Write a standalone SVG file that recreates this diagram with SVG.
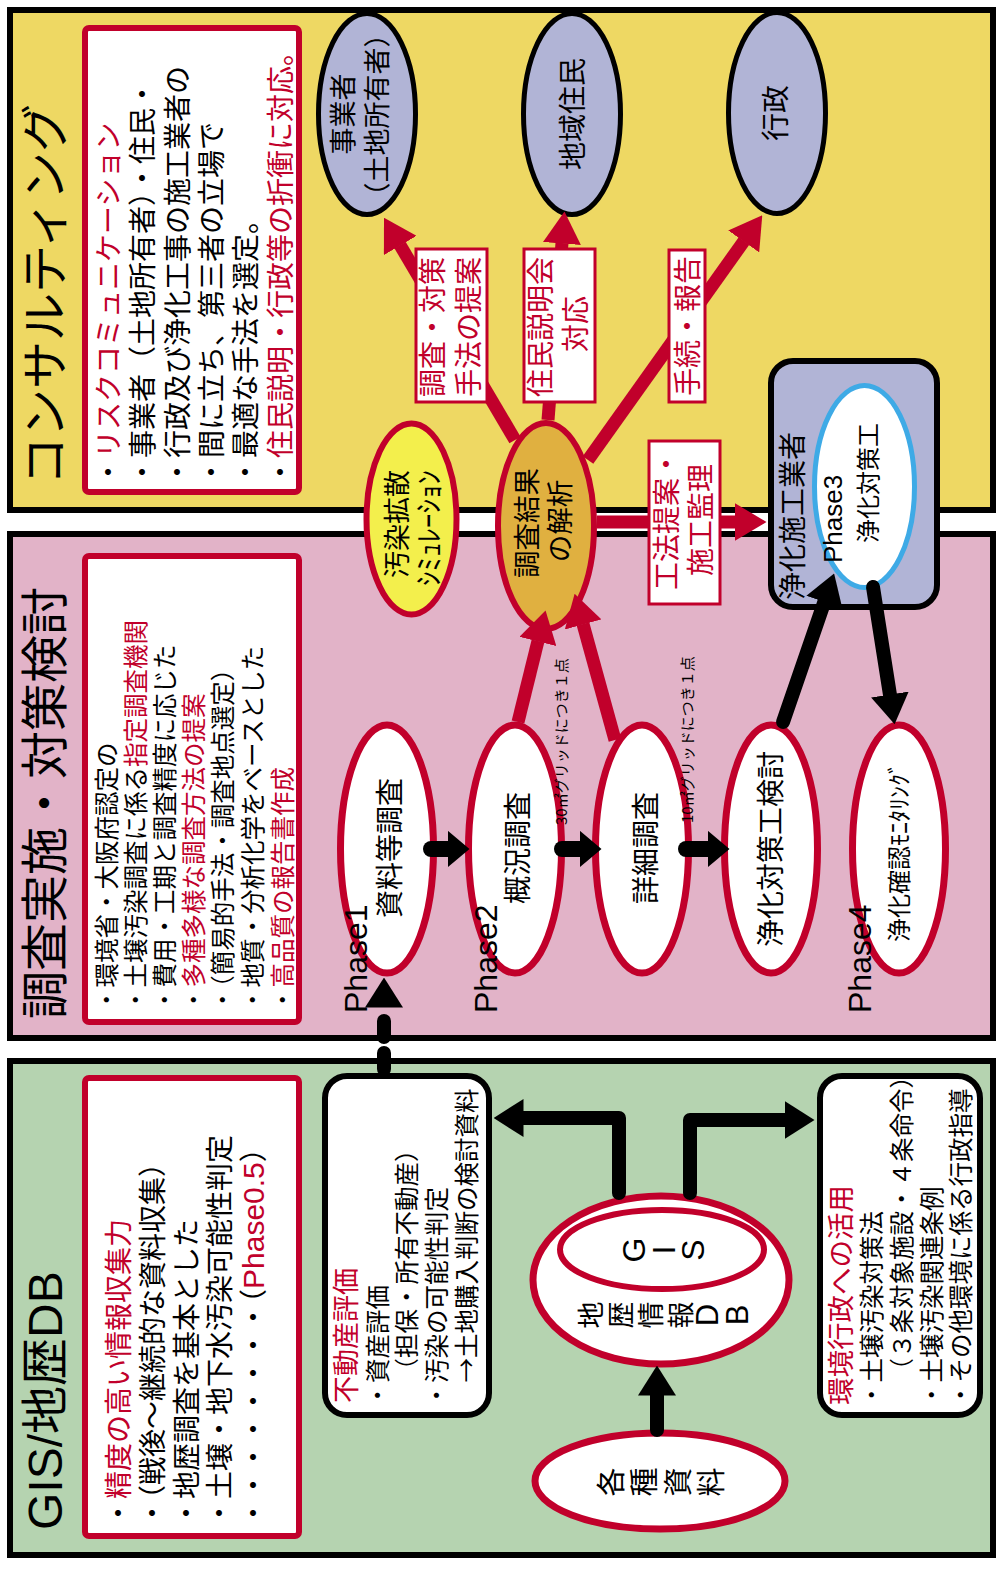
<svg xmlns="http://www.w3.org/2000/svg" width="997" height="1572" viewBox="0 0 997 1572">
<style>
text{font-family:"Noto Sans CJK JP","Noto Sans CJK SC",sans-serif;fill:#000}
.lat{font-family:"Liberation Sans",Arial,sans-serif}
.r{fill:#c1002b}
.title{font-size:48px}
.panel{stroke:#000;stroke-width:6}
.info{fill:#fff;stroke:#c1002b;stroke-width:6}
.wbox{fill:#fff;stroke:#000;stroke-width:6}
.lav{fill:#b1b4d6;stroke:#000;stroke-width:5}
.ph{fill:#fff;stroke:#c1002b;stroke-width:7}
.lbl{fill:#fff;stroke:#c1002b;stroke-width:3}
.cr{stroke:#c1002b;stroke-width:13;fill:none;marker-end:url(#ahR)}
.cb{stroke:#000;stroke-width:14;fill:none;stroke-linecap:round;stroke-linejoin:round;marker-end:url(#ahB)}
.cs{stroke:#000;stroke-width:16;fill:none;stroke-linecap:round;marker-end:url(#ahS)}
.f28{font-size:28px}
.f24{font-size:24.5px}
.mid{text-anchor:middle}
</style>
<defs>
<marker id="ahR" viewBox="0 -19 32 38" markerWidth="32" markerHeight="38" refX="0.5" refY="0" orient="auto" markerUnits="userSpaceOnUse"><path d="M0,-19 L32,0 L0,19 z" fill="#c1002b"/></marker>
<marker id="ahB" viewBox="0 -19 30 38" markerWidth="30" markerHeight="38" refX="0.5" refY="0" orient="auto" markerUnits="userSpaceOnUse"><path d="M0,-19 L30,0 L0,19 z" fill="#000"/></marker>
<marker id="ahS" viewBox="0 -18.5 22 37" markerWidth="22" markerHeight="37" refX="0.5" refY="0" orient="auto" markerUnits="userSpaceOnUse"><path d="M0,-18.5 L22,0 L0,18.5 z" fill="#000"/></marker>
</defs>
<rect width="997" height="1572" fill="#fff"/>
<g transform="translate(0 1572) rotate(-90)">
  <!-- panels -->
  <g id="panel-gis">
    <rect class="panel" x="17" y="10" width="494" height="983" fill="#b5d3b0"/>
    <text class="title" x="42" y="62"><tspan class="lat">GIS/</tspan>地歴<tspan class="lat">DB</tspan></text>
    <rect class="info" x="36" y="85" width="458" height="214" rx="4"/>
    <g class="f28">
      <text x="45" y="129">・<tspan class="r">精度の高い情報収集力</tspan></text>
      <text x="45" y="163">・（戦後～継続的な資料収集）</text>
      <text x="45" y="197">・地歴調査を基本とした</text>
      <text x="45" y="230">・土壌・地下水汚染可能性判定</text>
      <text x="45" y="264">・・・・・・・・（<tspan class="r lat" font-size="30">Phase0.5</tspan>）</text>
    </g>
  </g>
  <g id="panel-survey">
    <rect class="panel" x="534" y="10" width="504" height="983" fill="#e2b3c8"/>
    <text class="title" x="553" y="62">調査実施・対策検討</text>
    <rect class="info" x="550" y="85" width="466" height="214" rx="4"/>
    <g class="f24">
      <text x="560" y="116">・環境省・大阪府認定の</text>
      <text x="560" y="145">・土壌汚染調査に係る<tspan class="r">指定調査機関</tspan></text>
      <text x="560" y="174">・費用・工期と調査精度に応じた</text>
      <text x="560" y="203">・<tspan class="r">多種多様な調査方法の提案</tspan></text>
      <text x="560" y="232">・（簡易的手法・調査地点選定）</text>
      <text x="560" y="262">・地質・分析化学をベースとした</text>
      <text x="560" y="292">・<tspan class="r">高品質の報告書作成</tspan></text>
    </g>
  </g>
  <g id="panel-consulting">
    <rect class="panel" x="1062" y="10" width="500" height="983" fill="#eed863"/>
    <text class="title" x="1087" y="62">コンサルティング</text>
    <rect class="info" x="1080" y="85" width="464" height="214" rx="4"/>
    <g class="f28">
      <text x="1086" y="119">・<tspan class="r">リスクコミュニケーション</tspan></text>
      <text x="1086" y="153">・事業者（土地所有者）・住民・</text>
      <text x="1086" y="188">・行政及び浄化工事の施工業者の</text>
      <text x="1086" y="222">・間に立ち、第三者の立場で</text>
      <text x="1086" y="256">・最適な手法を選定。</text>
      <text x="1086" y="291">・<tspan class="r">住民説明・行政等の折衝に対応。</tspan></text>
    </g>
  </g>

  <!-- green panel nodes -->
  <g id="fudosan">
    <rect class="wbox" x="157" y="325" width="339" height="164" rx="22"/>
    <text class="r" x="169" y="356" font-size="27">不動産評価</text>
    <text x="164.5" y="387" font-size="24.5">・資産評価</text>
    <text x="189.5" y="416" font-size="24.5">（担保・所有不動産）</text>
    <text x="164.5" y="446" font-size="24.5">・汚染の可能性判定</text>
    <text x="189.5" y="476" font-size="24.5">→土地購入判断の検討資料</text>
  </g>
  <g id="gyosei-katsuyo">
    <rect class="wbox" x="157" y="820" width="339" height="160" rx="22"/>
    <text class="r" x="167" y="851" font-size="27.5">環境行政への活用</text>
    <text x="165" y="881" font-size="24.5">・土壌汚染対策法</text>
    <text x="189.5" y="911" font-size="24.5">（３条対象施設・４条命令）</text>
    <text x="165" y="941" font-size="24.5">・土壌汚染関連条例</text>
    <text x="165" y="970" font-size="24.5">・その他環境に係る行政指導</text>
  </g>
  <g id="gis-db">
    <ellipse class="ph" cx="292" cy="661" rx="84" ry="128"/>
    <ellipse fill="#fff" stroke="#c1002b" stroke-width="6" cx="322.5" cy="662" rx="39.5" ry="102"/>
    <text class="mid lat" font-size="32"><tspan x="322" y="645">G</tspan><tspan x="322" y="675">I</tspan><tspan x="322" y="704">S</tspan></text>
    <text class="mid" font-size="27"><tspan x="257" y="601">地</tspan><tspan x="257" y="631">歴</tspan><tspan x="257" y="661">情</tspan><tspan x="257" y="691">報</tspan><tspan class="lat" font-size="31" x="257" y="718">D</tspan><tspan class="lat" font-size="31" x="257" y="748">B</tspan></text>
  </g>
  <g id="kakushu-shiryo">
    <ellipse class="ph" cx="91" cy="660" rx="48" ry="125"/>
    <text class="mid" font-size="29"><tspan x="90" y="622">各</tspan><tspan x="90" y="655">種</tspan><tspan x="90" y="689">資</tspan><tspan x="90" y="722">料</tspan></text>
  </g>

  <!-- pink panel nodes -->
  <g id="phase1">
    <ellipse class="ph" cx="723" cy="387" rx="124" ry="46.5"/>
    <text class="mid f28" x="724" y="400">資料等調査</text>
    <text class="lat" x="559" y="367" font-size="32">Phase1</text>
  </g>
  <g id="phase2">
    <ellipse class="ph" cx="723" cy="515" rx="124" ry="46.5"/>
    <text class="mid f28" x="724" y="528">概況調査</text>
    <text class="lat" x="559" y="497" font-size="32">Phase2</text>
  </g>
  <g id="shosai">
    <ellipse class="ph" cx="723" cy="642" rx="124" ry="46.5"/>
    <text class="mid f28" x="724" y="656">詳細調査</text>
  </g>
  <g id="joka-kento">
    <ellipse class="ph" cx="723" cy="771" rx="124" ry="46.5"/>
    <text class="mid f28" x="723" y="781">浄化対策工検討</text>
  </g>
  <g id="phase4">
    <ellipse class="ph" cx="723" cy="899" rx="124" ry="46.5"/>
    <text class="mid" x="720" y="908" font-size="24">浄化確認ﾓﾆﾀﾘﾝｸﾞ</text>
    <text class="lat" x="559" y="871" font-size="32">Phase4</text>
  </g>

  <!-- yellow panel nodes -->
  <g id="jigyosha">
    <ellipse class="lav" cx="1458" cy="367" rx="100.5" ry="48.5"/>
    <text class="mid" x="1458" y="353" font-size="27">事業者</text>
    <text class="mid" x="1457" y="387" font-size="27">（土地所有者）</text>
  </g>
  <g id="chiiki-jumin">
    <ellipse class="lav" cx="1458" cy="572" rx="100.5" ry="48.5"/>
    <text class="mid f28" x="1458" y="583">地域住民</text>
  </g>
  <g id="gyosei">
    <ellipse class="lav" cx="1459" cy="777" rx="100.5" ry="48.5"/>
    <text class="mid f28" x="1459" y="786">行政</text>
  </g>
  <g id="simulation">
    <ellipse fill="#f3ef4c" stroke="#c1002b" stroke-width="6" cx="1053" cy="411.5" rx="95.5" ry="45"/>
    <text class="mid" x="1048" y="407" font-size="27">汚染拡散</text>
    <text class="mid" x="1044" y="440" font-size="29">ｼﾐｭﾚｰｼｮﾝ</text>
  </g>
  <g id="kaiseki">
    <ellipse fill="#e0b040" stroke="#c1002b" stroke-width="6" cx="1046" cy="546" rx="103" ry="48"/>
    <text class="mid" x="1049" y="537" font-size="27.5">調査結果</text>
    <text class="mid" x="1051" y="570" font-size="27.5">の解析</text>
  </g>
  <g id="joka-gyosha">
    <rect fill="#b1b4d6" stroke="#000" stroke-width="6" x="965" y="771" width="246" height="166" rx="22"/>
    <text x="972" y="803" font-size="28">浄化施工業者</text>
    <ellipse fill="#fff" stroke="#3eaae6" stroke-width="5" cx="1085.5" cy="864.5" rx="101" ry="50"/>
    <text class="lat" x="1009" y="842" font-size="26">Phase3</text>
    <text x="1029" y="877" font-size="24">浄化対策工</text>
  </g>

  <!-- connectors -->
  <g id="connectors">
    <line class="cr" x1="1132" y1="515" x2="1327" y2="400"/>
    <line class="cr" x1="1152" y1="548" x2="1329" y2="562"/>
    <line class="cr" x1="1112" y1="588" x2="1331" y2="744"/>
    <line class="cr" x1="1050" y1="597" x2="1050" y2="735"/>
    <line class="cr" x1="850" y1="518" x2="931" y2="538"/>
    <line class="cr" x1="832" y1="615" x2="948" y2="583"/>

    <line class="cs" x1="723" y1="431" x2="723" y2="448"/>
    <line class="cs" x1="723" y1="562" x2="723" y2="580"/>
    <line class="cs" x1="723" y1="686" x2="723" y2="708"/>

    <line class="cb" x1="850" y1="783" x2="970.5" y2="824.5"/>
    <line class="cb" x1="985" y1="873" x2="877" y2="890"/>
    <line class="cb" x1="142" y1="657" x2="177" y2="657" stroke-linecap="butt"/>
    <polyline class="cb" points="379,619 454,619 454,523"/>
    <polyline class="cb" points="379,690 452,690 452,785"/>
    <line class="cb" x1="503" y1="384" x2="565" y2="384" stroke-width="12" stroke-dasharray="16 16"/>

    <text x="747" y="567" font-size="15">30㎡グリッドにつき１点</text>
    <text x="749" y="693" font-size="15">10㎡グリッドにつき１点</text>

    <g id="label-chosa-taisaku">
      <rect class="lbl" x="1170" y="416" width="153" height="71"/>
      <text class="r f28" x="1175" y="443">調査・対策</text>
      <text class="r f28" x="1175" y="479">手法の提案</text>
    </g>
    <g id="label-jumin">
      <rect class="lbl" x="1170" y="524" width="153" height="71"/>
      <text class="r f28" x="1175" y="551">住民説明会</text>
      <text class="r f28 mid" x="1248" y="586">対応</text>
    </g>
    <g id="label-tetsuzuki">
      <rect class="lbl" x="1170" y="669" width="152" height="36"/>
      <text class="r f28" x="1176" y="698">手続・報告</text>
    </g>
    <g id="label-koho">
      <rect class="lbl" x="968" y="649" width="163" height="71"/>
      <text class="r f28 mid" x="1052" y="677">工法提案・</text>
      <text class="r f28 mid" x="1052" y="711">施工監理</text>
    </g>
  </g>
</g>
</svg>
